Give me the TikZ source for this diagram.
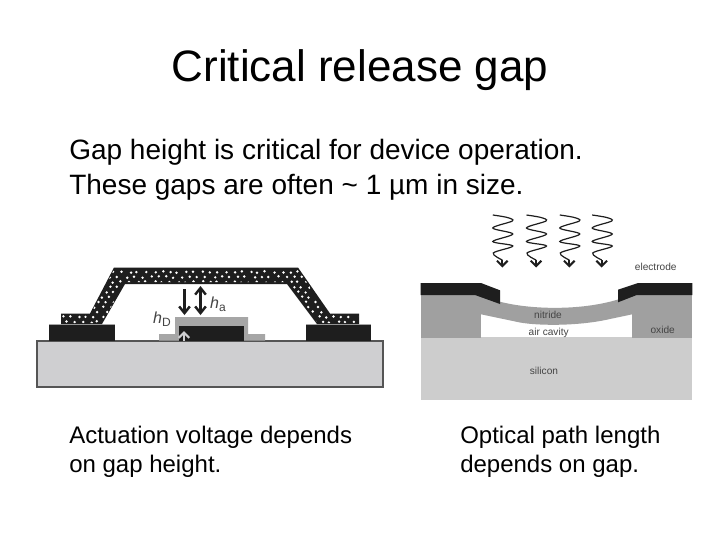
\documentclass[tikz,border=0pt]{standalone}
\usepackage{fontspec}
\setmainfont{Liberation Sans}
\usetikzlibrary{arrows.meta}
\definecolor{substrategray}{HTML}{CFCFD1}
\definecolor{edgegray}{HTML}{555555}
\definecolor{dielgray}{HTML}{A6A6A6}
\definecolor{oxidegray}{HTML}{A0A0A0}
\definecolor{silicongray}{HTML}{CDCDCD}
\definecolor{blackish}{HTML}{1E1E1E}
\definecolor{labelgray}{HTML}{444444}

\begin{document}
\begin{tikzpicture}[x=0.75pt,y=-0.75pt,
    bodytext/.style={font=\fontsize{21pt}{25pt}\selectfont,anchor=west,inner sep=0pt},
    captext/.style={font=\fontsize{18pt}{22pt}\selectfont,anchor=west,inner sep=0pt},
    smalllabel/.style={font=\fontsize{7.6pt}{9pt}\selectfont,text=labelgray,inner sep=0pt},
    gaparrow/.style={line width=1.8pt,blackish,{Straight Barb[length=5pt,width=8pt]}-{Straight Barb[length=5pt,width=8pt]}},
    wave/.style={line width=0.9pt,blackish}]
    \useasboundingbox (0,0) rectangle (720,540);
    \fill[white] (0,0) rectangle (720,540);

    % texts
    \node[font=\fontsize{33pt}{38pt}\selectfont,inner sep=0pt] (title) at (360,70) {Critical release gap};
    \node[bodytext] (line1) at (69,152.5) {Gap height is critical for device operation.};
    \node[bodytext] (line2) at (69,187.5) {These gaps are often \textasciitilde{} 1 µm in size.};
    \node[captext] (capa) at (69,437) {Actuation voltage depends};
    \node[captext] (capb) at (69,466) {on gap height.};
    \node[captext] (capc) at (460,437) {Optical path length};
    \node[captext] (capd) at (460,466) {depends on gap.};

    % left device
    \draw[fill=substrategray,draw=edgegray,line width=0.9pt] (37,341) rectangle (383,387);
    \fill[dielgray] (49,324) rectangle (115,326);
    \fill[dielgray] (306,324) rectangle (371,326);
    \fill[blackish] (49,325) rectangle (115,341);
    \fill[blackish] (306,325) rectangle (371,341);
    \fill[dielgray] (159,340.5) -- (159,334) -- (175,334) -- (175,317) -- (248,317) -- (248,334) -- (265,334) -- (265,340.5) -- cycle;
    \fill[blackish] (179,326) rectangle (244,340.5);
    \path[fill=blackish] (114,267.5) -- (298,267.5) -- (330,313.5) -- (359,313.5) -- (359,324) -- (317,324) -- (287,284) -- (125,284) -- (102,324) -- (61,324) -- (61,313.5) -- (90,313.5) -- cycle;
    \begin{scope}
        \clip (114,269.5) -- (298,269.5) -- (329,315) -- (358,315) -- (358,323) -- (318,323) -- (287,282) -- (125,282) -- (102,323) -- (62,323) -- (62,315) -- (90,315) -- cycle;
        \pgfmathsetseed{17}
        \foreach \i in {0,...,38} {
            \foreach \j in {0,...,10} {
                \pgfmathsetmacro{\dotx}{58+\i*8+rand*1.8+mod(\j,2)*4}
                \pgfmathsetmacro{\doty}{272+\j*5+rand*0.8}
                \fill[white] (\dotx,\doty) circle (1.35);
            }
        }
    \end{scope}
    \draw[gaparrow,-{Straight Barb[length=5pt,width=8pt]}] (184.5,289) -- (184.5,315);
    \draw[gaparrow] (200.5,286) -- (200.5,315);
    \draw[line width=1.6pt,color=substrategray,-{Straight Barb[length=4pt,width=8pt]}] (184,341) -- (184,331);
    \node[font=\fontsize{12pt}{14pt}\selectfont,text=labelgray,inner sep=0pt] (ha) at (218,304) {\textit{h}\raisebox{-2pt}{\fontsize{9pt}{10pt}\selectfont a}};
    \node[font=\fontsize{12pt}{14pt}\selectfont,text=labelgray,inner sep=0pt] (hd) at (162,319) {\textit{h}\raisebox{-2pt}{\fontsize{9pt}{10pt}\selectfont D}};

    % right device
    \fill[silicongray] (420.7,337.3) rectangle (692.3,400);
    \fill[oxidegray] (420.7,294) rectangle (481,337.5);
    \fill[oxidegray] (632.3,294) rectangle (692.3,337.5);
    \fill[oxidegray] (475,295) -- (500,301.7) .. controls (530,309.5) and (580,311) .. (618,299.5) -- (637,294) -- (632.3,314.3) -- (610,319) .. controls (580,326) and (540,326) .. (520,322.5) -- (481,314.3) -- cycle;
    \fill[blackish] (420.7,283) -- (481,283) -- (500,290.3) -- (500,304) -- (475,295) -- (420.7,295) -- cycle;
    \fill[blackish] (692.3,283) -- (638,283) -- (618,289.7) -- (618,302.3) -- (636.7,295) -- (692.3,295) -- cycle;
    \foreach \wx in {502.3,536,569.3,601.7} {
        \draw[wave] plot[smooth,tension=0.55] coordinates {(\wx-9.5,215) (\wx+5,217.5) (\wx+10,221) (\wx-9.5,228) (\wx+10.5,234) (\wx-9.5,241.5) (\wx+10.5,246) (\wx-9,253) (\wx,260)};
        \draw[line width=1.5pt,blackish,-{Straight Barb[length=4pt,width=8pt]}] (\wx,260) -- (\wx,267.5);
    }
    \node[smalllabel] (electrode) at (655.7,267) {electrode};
    \node[smalllabel] (nitride) at (548,315.3) {nitride};
    \node[smalllabel] (aircavity) at (548.7,332.7) {air cavity};
    \node[smalllabel] (oxide) at (662.7,330) {oxide};
    \node[smalllabel] (silicon) at (544,370.7) {silicon};
\end{tikzpicture}
\end{document}
